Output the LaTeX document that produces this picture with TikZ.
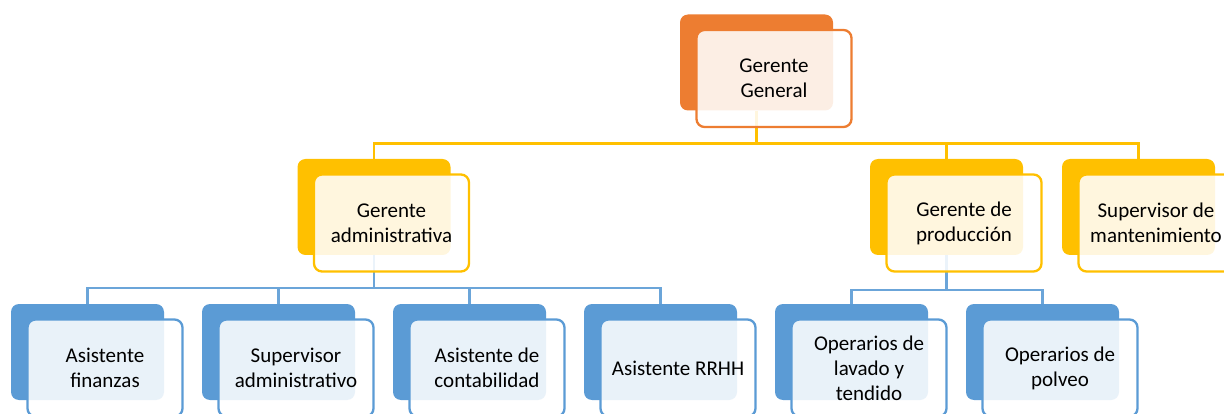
\documentclass[tikz,border=0pt]{standalone}
\usepackage{fontspec}
\setmainfont{Carlito}
\usetikzlibrary{positioning,backgrounds}

\definecolor{orng}{HTML}{ED7D31}
\definecolor{ylw}{HTML}{FFC000}
\definecolor{blu}{HTML}{5B9BD5}

\begin{document}
\begin{tikzpicture}[
x=1pt,y=-1pt,
back/.style={
  rounded corners=8pt,
  fill=#1,
  draw=none,
  inner sep=0pt,
  minimum width=153pt,
  minimum height=96pt
  },
front/.style={
  rounded corners=8pt,
  draw=#1,
  line width=2.3pt,
  fill=white,
  fill opacity=0.87,
  text opacity=1,
  inner sep=0pt,
  minimum width=155pt,
  minimum height=97pt,
  align=center,
  font=\fontsize{21}{25}\selectfont
  },
yline/.style={
  draw=ylw,
  line width=2.5pt
  },
bline/.style={
  draw=blu!90,
  line width=2.5pt
  }
]
\useasboundingbox (0,0) rectangle (1224,414);

% cards: back shape, then the front sheet with the text
\foreach \nm/\x/\y/\col/\txt in {
  gg/756.5/62.5/orng/{Gerente\\General},
  adm/374/207/ylw/{Gerente\\administrativa},
  prod/946.5/207/ylw/{Gerente de\\producción},
  mant/1138.5/207/ylw/{Supervisor de\\mantenimiento},
  af/87.5/352/blu/{Asistente\\finanzas},
  sa/278.5/352/blu/{Supervisor\\administrativo},
  ac/469.5/352/blu/{Asistente de\\contabilidad},
  ar/660.5/352/blu/{Asistente RRHH},
  ol/851.5/352/blu/{Operarios de\\lavado y\\tendido},
  op/1042.5/352/blu/{Operarios de\\polveo}}
{
  \node[back=\col] (\nm) at (\x,\y) {};
  \node[front=\col] (\nm-f) at ([shift={(17.5,16)}]\nm) {\txt};
}

\begin{scope}[on background layer]
\foreach \n in {adm,prod,mant}
  \draw[yline] (gg.south) -- ++(0,33) -| (\n.north);
\foreach \n in {af,sa,ac,ar}
  \draw[bline] (adm.south) -- ++(0,33) -| (\n.north);
\foreach \n in {ol,op}
  \draw[bline] (prod.south) -- ++(0,35) -| (\n.north);
\end{scope}
\end{tikzpicture}
\end{document}
